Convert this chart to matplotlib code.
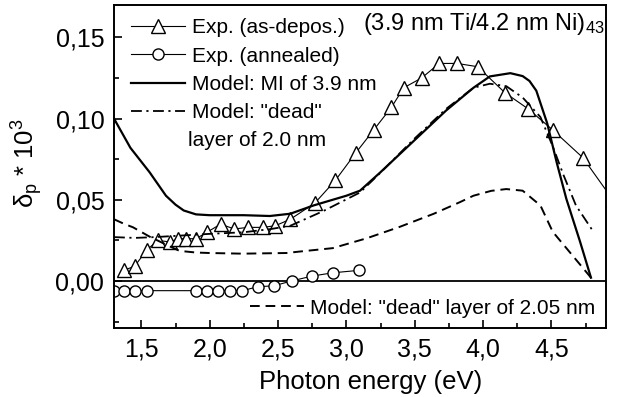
import numpy as np
import matplotlib
matplotlib.use('Agg')
import matplotlib.pyplot as plt
from matplotlib.ticker import MultipleLocator

plt.rcParams['font.family'] = ['Liberation Sans', 'DejaVu Sans']
plt.rcParams['mathtext.default'] = 'regular'

# Exp. (as-deposited) - triangles
tri_x = [1.37, 1.45, 1.54, 1.62, 1.71, 1.77, 1.83, 1.90, 1.98, 2.08, 2.18, 2.28, 2.39, 2.48,
         2.59, 2.77, 2.92, 3.07, 3.20, 3.33, 3.42, 3.55, 3.68, 3.81, 3.96, 4.16, 4.33, 4.51,
         4.73, 4.95]
tri_y = [0.0065, 0.009, 0.019, 0.025, 0.024, 0.026, 0.026, 0.026, 0.030, 0.035, 0.032, 0.033,
         0.033, 0.034, 0.038, 0.048, 0.062, 0.079, 0.093, 0.107, 0.119, 0.125, 0.134, 0.134,
         0.132, 0.116, 0.106, 0.093, 0.076, 0.050]

# Exp. (annealed) - circles
circ_x = [1.30, 1.37, 1.45, 1.54, 1.90, 1.98, 2.06, 2.15, 2.24, 2.35, 2.47, 2.60, 2.75, 2.90, 3.09]
circ_y = [-0.006, -0.006, -0.006, -0.006, -0.006, -0.006, -0.006, -0.006, -0.006, -0.0036,
          -0.003, 0.0, 0.003, 0.005, 0.0065]

# Model: MI of 3.9 nm (solid)
mi_x = [1.30, 1.42, 1.56, 1.68, 1.75, 1.81, 1.90, 2.00, 2.25, 2.44, 2.59, 2.76, 2.90, 3.00,
        3.10, 3.25, 3.49, 3.73, 3.93, 4.05, 4.20, 4.29, 4.34, 4.39, 4.47, 4.54, 4.61, 4.71, 4.79]
mi_y = [0.100, 0.082, 0.067, 0.0525, 0.047, 0.0434, 0.041, 0.0405, 0.0405, 0.040, 0.0414,
        0.0465, 0.050, 0.0525, 0.0556, 0.067, 0.086, 0.105, 0.119, 0.126, 0.128, 0.1262,
        0.1232, 0.1172, 0.097, 0.0727, 0.0505, 0.0242, 0.002]

# Model: "dead" layer of 2.0 nm (dash-dot)
d20_x = [1.30, 1.45, 1.60, 1.80, 2.00, 2.25, 2.45, 2.59, 2.83, 3.10, 3.25, 3.49, 3.73, 3.93,
         4.05, 4.17, 4.29, 4.42, 4.51, 4.59, 4.68, 4.81]
d20_y = [0.027, 0.0265, 0.027, 0.028, 0.029, 0.030, 0.032, 0.034, 0.043, 0.0545, 0.0667,
         0.087, 0.106, 0.119, 0.1215, 0.120, 0.113, 0.101, 0.083, 0.065, 0.0465, 0.030]

# Model: "dead" layer of 2.05 nm (dashed)
d205_x = [1.30, 1.37, 1.44, 1.56, 1.71, 1.78, 1.90, 2.00, 2.24, 2.56, 2.67, 2.90, 3.15, 3.39,
          3.64, 3.83, 3.93, 4.06, 4.17, 4.29, 4.42, 4.51, 4.61, 4.71, 4.79]
d205_y = [0.038, 0.0353, 0.033, 0.0273, 0.0212, 0.0185, 0.0175, 0.0172, 0.0168, 0.0172,
          0.0182, 0.0202, 0.0263, 0.0333, 0.0414, 0.0485, 0.0525, 0.0555, 0.0566, 0.0556,
          0.0465, 0.0303, 0.0202, 0.0101, 0.002]

xticks = [1.5, 2.0, 2.5, 3.0, 3.5, 4.0, 4.5]
xtick_labels = ['1,5', '2,0', '2,5', '3,0', '3,5', '4,0', '4,5']
yticks = [0.0, 0.05, 0.10, 0.15]
ytick_labels = ['0,00', '0,05', '0,10', '0,15']

fig = plt.figure(figsize=(6.22, 3.97), dpi=100)
ax = fig.add_axes([0.1833, 0.1738, 0.791, 0.8136])

ax.axhline(0, color='black', lw=1.3)

l1, = ax.plot(tri_x, tri_y, color='black', lw=0.8, marker='^', ms=9.5,
              mfc='white', mec='black', mew=1.0, label='Exp. (as-depos.)')
l2, = ax.plot(circ_x, circ_y, color='black', lw=0.8, marker='o', ms=8,
              mfc='white', mec='black', mew=1.0, label='Exp. (annealed)')
l3, = ax.plot(mi_x, mi_y, color='black', lw=1.6, label='Model: MI of 3.9 nm')
l4, = ax.plot(d20_x, d20_y, color='black', lw=1.3, dashes=(6, 2.5, 1.2, 2.5),
              label='Model: "dead"')
l5, = ax.plot(d205_x, d205_y, color='black', lw=1.4, dashes=(5, 3),
              label='Model: "dead" layer of 2.05 nm')

ax.set_xlim(1.3, 4.9)
ax.set_ylim(-0.029, 0.170)
ax.set_xticks(xticks)
ax.set_xticklabels(xtick_labels)
ax.set_yticks(yticks)
ax.set_yticklabels(ytick_labels)
ax.xaxis.set_minor_locator(MultipleLocator(0.25))
ax.yaxis.set_minor_locator(MultipleLocator(0.025))
ax.tick_params(which='both', direction='in', top=False, right=False, width=1.2)
ax.tick_params(which='major', length=6, labelsize=18, pad=7)
ax.tick_params(which='minor', length=3.5)
for s in ax.spines.values():
    s.set_linewidth(1.4)

ax.set_xlabel('Photon energy (eV)', fontsize=18.5)
ax.xaxis.set_label_coords(0.522, -0.13)
ax.set_ylabel('δ$_p$ * 10$^3$', fontsize=18.5)
ax.yaxis.set_label_coords(-0.14, 0.51)

leg1 = ax.legend(handles=[l1, l2, l3, l4], loc='upper left', bbox_to_anchor=(0.018, 0.985),
                 frameon=False, fontsize=15, handlelength=2.6, handletextpad=0.3,
                 labelspacing=0.45, borderaxespad=0.2, borderpad=0.2)
ax.add_artist(leg1)
ax.text(0.151, 0.58, 'layer of 2.0 nm', transform=ax.transAxes, fontsize=15, va='center')

ax.legend(handles=[l5], loc='lower right', bbox_to_anchor=(1.0, 0.0), frameon=False,
          fontsize=15, handlelength=2.6, handletextpad=0.3, borderaxespad=0.2, borderpad=0.3)

ax.text(0.998, 0.94, '(3.9 nm Ti/4.2 nm Ni)$_{43}$', transform=ax.transAxes,
        fontsize=17, ha='right', va='center')

fig.savefig('out.png', dpi=100)
